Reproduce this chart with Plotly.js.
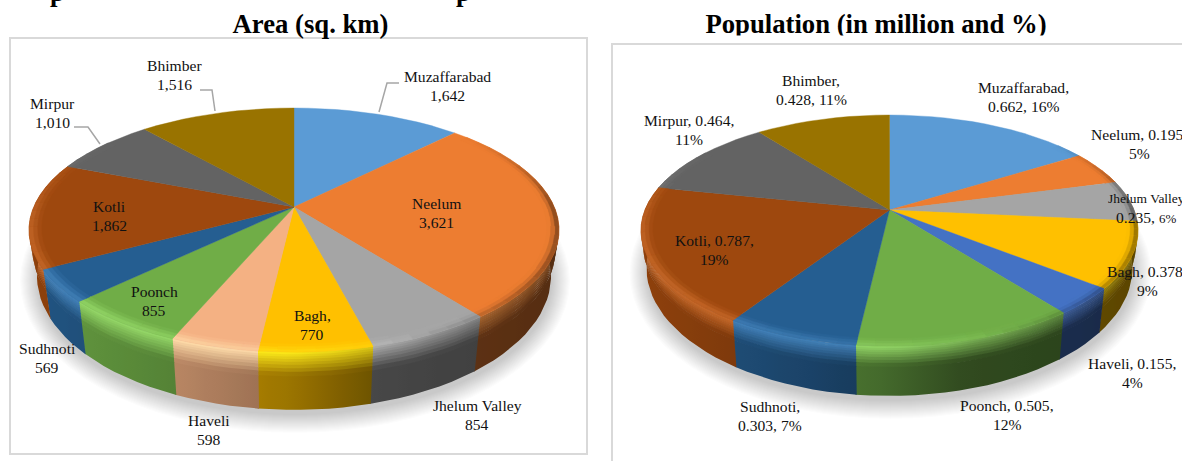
<!DOCTYPE html>
<html>
<head>
<meta charset="utf-8">
<script src="https://cdn.plot.ly/plotly-3.0.1.min.js"></script>
<style>html,body{margin:0;padding:0;background:#fff;overflow:hidden}</style>
</head>
<body>
<div id="chart" style="width:1182px;height:461px"></div>
<script>
// ---------- data ----------
const districts = ["Muzaffarabad","Neelum","Jhelum Valley","Bagh","Haveli","Poonch","Sudhnoti","Kotli","Mirpur","Bhimber"];
const areaValues = [1642,3621,854,770,598,855,569,1862,1010,1516];
const populationValues = [0.662,0.195,0.235,0.378,0.155,0.505,0.303,0.787,0.464,0.428];
const areaColors = ["#5B9BD5","#ED7D31","#A5A5A5","#FFC000","#F4B183","#70AD47","#255E91","#9E480E","#636363","#997300"];
const popColors  = ["#5B9BD5","#ED7D31","#A5A5A5","#FFC000","#4472C4","#70AD47","#255E91","#9E480E","#636363","#997300"];

const areaLabels = ["Muzaffarabad<br>1,642","Neelum<br>3,621","Jhelum Valley<br>854","Bagh,<br>770","Haveli<br>598","Poonch<br>855","Sudhnoti<br>569","Kotli<br>1,862","Mirpur<br>1,010","Bhimber<br>1,516"];
const areaLabelX = [447,436,477,312,209,154,47,109,52,174];
const areaLabelY = [86,213,415,325,430,301,358,216,113,75];
const popLabels = ["Muzaffarabad,<br>0.662, 16%","Neelum, 0.195,<br>5%",'<span style="font-size:13.5px">Jhelum Valley</span><br>0.235, <span style="font-size:13px">6%</span>',"Bagh, 0.378,<br>9%","Haveli, 0.155,<br>4%","Poonch, 0.505,<br>12%","Sudhnoti,<br>0.303, 7%","Kotli, 0.787,<br>19%","Mirpur, 0.464,<br>11%","Bhimber,<br>0.428, 11%"];
const popLabelX = [1023,1139,1146,1147,1132,1007,770,714,689,811];
const popLabelY = [97,144,208,281,373,415,416,250,130,90];

// ---------- pie geometry (pixels of the figure) ----------
const leftPie  = {cx:294, y0:207, back:99, front:145, rx:265, y0L:250.7, syL:1.098, sxL:0.97};
const rightPie = {cx:889.5, y0:210, back:95, front:136, rx:248.5, y0L:245.3, syL:1.108, sxL:0.978};
const SERIF = '"Liberation Serif","Times New Roman",serif';
const LABEL_SIZE = 15.6, LINE_GAP = 18.6;

const hex = c => [1,3,5].map(i => parseInt(c.substr(i,2),16));
const clamp = (v,a,b) => Math.max(a,Math.min(b,v));
const css = rgb => 'rgb(' + rgb.map(v => clamp(Math.round(v/2)*2,0,255)).join(',') + ')';
const mix = (a,b,t) => a.map((v,i) => v+(b[i]-v)*t);
const brighten = c => mix(c.map(v => Math.min(255,v*1.22)),[255,255,255],.1);
const interp = (pts,x) => { for(let i=1;i<pts.length;i++){ if(x<=pts[i][0]){ const t=(x-pts[i-1][0])/(pts[i][0]-pts[i-1][0]); return pts[i-1][1]+(pts[i][1]-pts[i-1][1])*t; } } return pts[pts.length-1][1]; };
const wallShade = [[-1,.9],[-.4,.74],[0,.6],[.3,.43],[1,.36]];
const DEG = Math.PI/180;

function projector(p){
  const k=(p.front-p.back)/(p.front+p.back), A=p.back*(1+k), B=p.rx*Math.sqrt(1-k*k);
  return {
    top:(r,th)=>{const u=r*Math.sin(th),v=r*Math.cos(th),d=1+k*v;return [p.cx+B*u/d,p.y0-A*v/d];},
    low:(r,th)=>{const u=r*Math.sin(th),v=r*Math.cos(th),d=1+k*v;return [p.cx+p.sxL*B*u/d,p.y0L-p.syL*A*v/d];},
    ell:{cyL:p.y0L+p.syL*(A/(1-k*k)-p.back), ryL:p.syL*A/(1-k*k), rxL:p.sxL*p.rx}
  };
}

function buildPie(p,values,colors){
  const P=projector(p), total=values.reduce((a,b)=>a+b,0), shadow=[], walls=[], tops=[];
  for(let i=0;i<18;i++){
    const xs=[],ys=[];
    for(let a=0;a<=72;a++){const t=a*5*DEG;
      xs.push(p.cx+1+(P.ell.rxL+i*1.05)*Math.sin(t)); ys.push(P.ell.cyL+5+(P.ell.ryL+i*1.05)*Math.cos(t));}
    shadow.push({type:'scatter',mode:'lines',x:xs,y:ys,fill:'toself',fillcolor:'rgba(70,70,75,0.016)',line:{width:0},hoverinfo:'skip',showlegend:false});
  }
  const ringGroups=new Map();
  const addQuad=(m,col,q)=>{ if(!m.has(col)) m.set(col,{x:[],y:[]}); const g=m.get(col);
    q.forEach(pt=>{g.x.push(pt[0]);g.y.push(pt[1]);}); g.x.push(q[0][0],null); g.y.push(q[0][1],null); };
  const wallBands=[0,.04,.08,.12,.17,.22,.28,.34,.42,1];
  const ringBands=[.955,.97,.985,1];
  const lerp=(A,B,t)=>[A[0]+(B[0]-A[0])*t,A[1]+(B[1]-A[1])*t];
  let cum=0;
  values.forEach((val,i)=>{
    const a0=cum/total*360*DEG; cum+=val; const a1=cum/total*360*DEG;
    const base=hex(colors[i]), light=brighten(base);
    const steps=Math.max(2,Math.ceil((a1-a0)/(4*DEG)));
    const fx=[p.cx],fy=[p.y0];
    for(let s=0;s<=steps;s++){const pt=P.top(1,a0+(a1-a0)*s/steps);fx.push(pt[0]);fy.push(pt[1]);}
    fx.push(p.cx);fy.push(p.y0);
    tops.push({type:'scatter',mode:'lines',x:fx,y:fy,fill:'toself',fillcolor:colors[i],line:{width:.4,color:colors[i]},name:districts[i],hoverinfo:'skip',showlegend:false});
    // rim bevel
    for(let s=0;s<steps;s++){
      const t0=a0+(a1-a0)*s/steps,t1=a0+(a1-a0)*(s+1)/steps,tm=(t0+t1)/2,u=Math.sin(tm),v=Math.cos(tm);
      ringBands.slice(0,-1).forEach((r0,b)=>{
        const r1=ringBands[b+1],st=((r0+r1)/2-.955)/.045;
        const lighten=Math.min(1,(v<0?.55*Math.pow(-v,.7):0)+(u<0?.7*(-u)*clamp(1-v/.6,0,1):0))*clamp(1-u/.8,0,1);
        const dark=u>.3?.55*(u-.3)/.7*clamp(1-v/.7,0,1):0;
        if(lighten<.02&&dark<.02) return;
        const c=mix(mix(base,light,lighten*st),[0,0,0],dark*st*st);
        addQuad(ringGroups,css(c),[P.top(r0,t0),P.top(r0,t1),P.top(r1,t1),P.top(r1,t0)]);
      });
    }
    // outer wall: one horizontally graded polygon per band
    const s0=Math.max(a0,70*DEG), s1=Math.min(a1+.25*DEG,290*DEG);
    if(s1>s0){
      const n=Math.max(2,Math.ceil((s1-s0)/(3*DEG)));
      wallBands.slice(0,-1).forEach((w0,b)=>{
        const w1=Math.min(1,wallBands[b+1]+.015),wm=(w0+wallBands[b+1])/2,xs=[],ys=[],back=[];
        for(let s=0;s<=n;s++){
          const th=s0+(s1-s0)*s/n,T=P.top(1,th),L=P.low(1,th),a=lerp(T,L,w0),c=lerp(T,L,w1);
          xs.push(a[0]);ys.push(a[1]);back.unshift(c);
        }
        back.forEach(q=>{xs.push(q[0]);ys.push(q[1]);});xs.push(xs[0]);ys.push(ys[0]);
        const xmin=Math.min(...xs),xmax=Math.max(...xs),scale=[];
        for(let q=0;q<=8;q++){
          const x=xmin+(xmax-xmin)*q/8,u=(x-p.cx)/p.rx;
          const hi=clamp(1-wm/.4,0,1)*clamp(.98-.75*u,0,1);
          scale.push([q/8,css(mix(base.map(z=>z*interp(wallShade,u)),light,hi))]);
        }
        walls.push({type:'scatter',mode:'lines',x:xs,y:ys,fill:'toself',fillgradient:{type:'horizontal',colorscale:scale,start:xmin,stop:xmax},line:{width:0},hoverinfo:'skip',showlegend:false});
      });
    }
  });
  const rings=[...ringGroups.entries()].map(([c,g])=>({type:'scatter',mode:'lines',x:g.x,y:g.y,fill:'toself',fillcolor:c,line:{width:.5,color:c},connectgaps:false,hoverinfo:'skip',showlegend:false}));
  return shadow.concat(walls,tops,rings);
}

// ---------- titles ----------
const TITLE_SIZE=26.7;
const titleTraces=[
  {type:'scatter',mode:'text',x:[310.5],y:[26],text:['<b>Area (sq. km)</b>'],textposition:'middle center',textfont:{family:SERIF,size:TITLE_SIZE,color:'#000'},hoverinfo:'skip',showlegend:false},
  {type:'scatter',mode:'text',x:[876],y:[26],text:['<b>Population (in million and %)</b>'],textposition:'middle center',textfont:{family:SERIF,size:TITLE_SIZE,color:'#000'},hoverinfo:'skip',showlegend:false},
  {type:'scatter',mode:'lines',x:[690,1065,1065,690,690],y:[35.5,35.5,43,43,35.5],fill:'toself',fillcolor:'#fff',line:{width:0},hoverinfo:'skip',showlegend:false}
];

const data=titleTraces.concat(buildPie(leftPie,areaValues,areaColors),buildPie(rightPie,populationValues,popColors));

const mkAnn=(t,x,y)=>t.split('<br>').map((line,j)=>({text:line,x:x,y:y+(j-.5)*LINE_GAP,xref:'x',yref:'y',xanchor:'center',yanchor:'middle',showarrow:false,align:'center',font:{family:SERIF,size:LABEL_SIZE,color:'#111'}}));
const annotations=[
  ...areaLabels.flatMap((t,i)=>mkAnn(t,areaLabelX[i],areaLabelY[i])),
  ...popLabels.flatMap((t,i)=>mkAnn(t,popLabelX[i],popLabelY[i])),
  ...[57,464].map(x=>({text:'<b>p</b>',x:x/1182,y:1.018,xref:'paper',yref:'paper',xanchor:'center',yanchor:'middle',showarrow:false,font:{family:SERIF,size:TITLE_SIZE,color:'#000'}}))
];

const leader=d=>({type:'path',path:d,line:{color:'#a6a6a6',width:1.5},layer:'above',xref:'x',yref:'y'});
const shapes=[
  {type:'rect',x0:10,x1:587,y0:38,y1:454,line:{color:'#d9d9d9',width:2},fillcolor:'#fff',layer:'below',xref:'x',yref:'y'},
  {type:'rect',x0:612,x1:1210,y0:44,y1:490,line:{color:'#d9d9d9',width:2},fillcolor:'#fff',layer:'below',xref:'x',yref:'y'},
  leader('M379,112 L387,83 L399,83'),
  leader('M215,111 L212,90 L200,90'),
  leader('M100,144 L88,127 L74,127')
];

Plotly.newPlot('chart',data,{
  width:1182,height:461,autosize:false,showlegend:false,
  margin:{l:0,r:0,t:0,b:0,pad:0},
  paper_bgcolor:'#fff',plot_bgcolor:'rgba(0,0,0,0)',
  xaxis:{range:[0,1182],visible:false,fixedrange:true},
  yaxis:{range:[461,0],visible:false,fixedrange:true},
  annotations:annotations,shapes:shapes,hovermode:false
},{displayModeBar:false,staticPlot:true});
</script>
</body>
</html>
